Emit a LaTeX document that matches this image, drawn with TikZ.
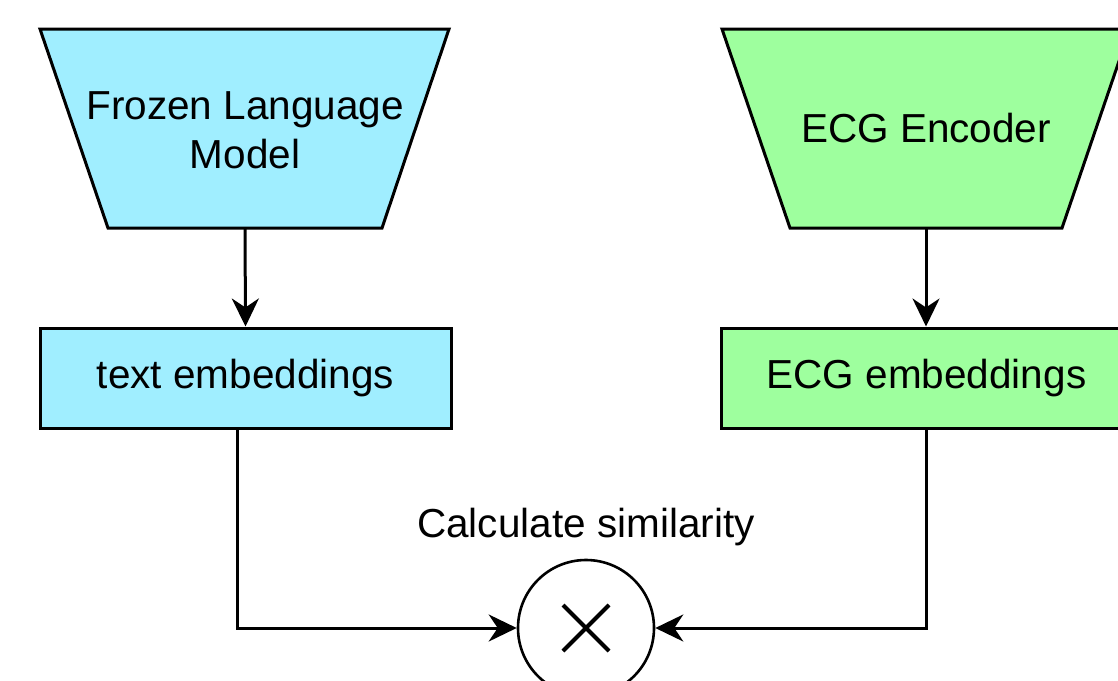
\documentclass[tikz,border=0pt]{standalone}
\usepackage{fontspec}
\setmainfont{Liberation Sans}
\usetikzlibrary{arrows.meta}
\definecolor{lcyan}{RGB}{160,238,255}
\definecolor{lgreen}{RGB}{158,255,158}
\begin{document}
\begin{tikzpicture}[x=1pt,y=-1pt,
  txt/.style={font=\fontsize{40.5}{49}\selectfont, align=center, text=black},
  shp/.style={draw=black, line width=3pt},
  box/.style={shp, rectangle, minimum width=411pt, minimum height=100pt, txt, inner sep=0pt},
  conn/.style={line width=3pt, -{Stealth[length=28pt,width=27pt,inset=9pt]}}
]
\useasboundingbox (0,0) rectangle (1118,680);
\clip (0,0) rectangle (1118,680);
% trapezoids
\filldraw[shp, fill=lcyan, line join=miter] (40,29) -- (449,29) -- (382,228) -- (108,228) -- cycle;
\node[txt] (flm) at (245,130) {Frozen Language\\Model};
\coordinate (flmb) at (245,228);
\filldraw[shp, fill=lgreen, line join=miter] (722,29) -- (1130,29) -- (1062,228) -- (790,228) -- cycle;
\node[txt] (enc) at (926,128) {ECG Encoder};
\coordinate (encb) at (926,228);
% boxes
\node[box, fill=lcyan] (teb) at (245.5,378) {text embeddings};
\node[box, fill=lgreen] (eeb) at (926.5,378) {ECG embeddings};
% circle
\node[draw=black, line width=2.6pt, circle, minimum size=136pt, inner sep=0pt] (mul) at (586,628) {};
\draw[line width=4.2pt] ([shift={(-23,-23)}]mul.center) -- ([shift={(23,23)}]mul.center);
\draw[line width=4.2pt] ([shift={(-23,23)}]mul.center) -- ([shift={(23,-23)}]mul.center);
\node[txt] (lbl) at (586,527) {Calculate similarity};
% connectors
\draw[conn] (flmb) -- (teb.north);
\draw[conn] (encb) -- (eeb.north -| encb);
\draw[conn] ([xshift=-8.5pt]teb.south) |- (mul.west);
\draw[conn] (eeb.south -| encb) |- (mul.east);
\end{tikzpicture}
\end{document}
